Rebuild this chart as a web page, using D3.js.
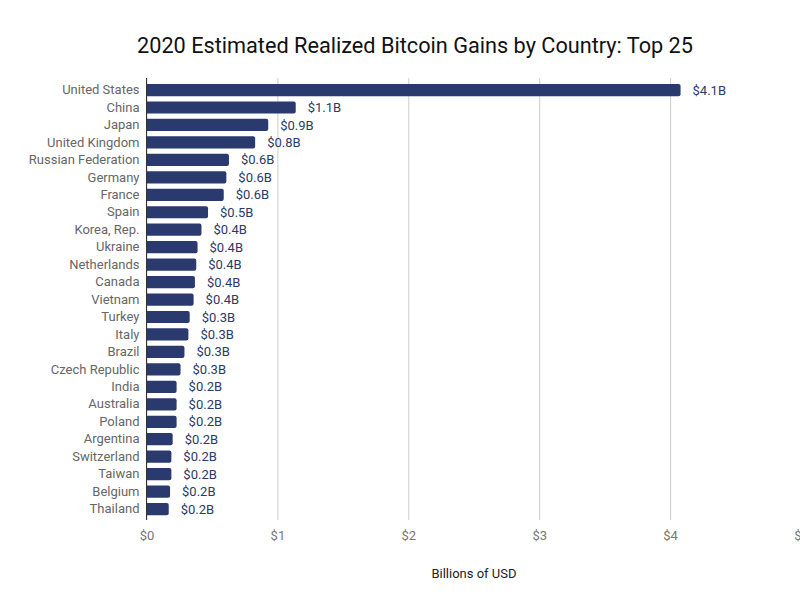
<!DOCTYPE html>
<html>
<head>
<meta charset="utf-8">
<script src="https://cdn.jsdelivr.net/npm/d3@7"></script>
<style>
  body { margin: 0; background: #fff; }
  text { font-family: Roboto, "Open Sans", sans-serif; }
</style>
</head>
<body>
<div id="chart"></div>
<script>
// data (billions of USD)
var countries = ["United States", "China", "Japan", "United Kingdom", "Russian Federation",
  "Germany", "France", "Spain", "Korea, Rep.", "Ukraine", "Netherlands", "Canada",
  "Vietnam", "Turkey", "Italy", "Brazil", "Czech Republic", "India", "Australia",
  "Poland", "Argentina", "Switzerland", "Taiwan", "Belgium", "Thailand"]
var gains = [4.08, 1.14, 0.93, 0.83, 0.63, 0.61, 0.59, 0.47, 0.42, 0.39, 0.38, 0.37,
  0.36, 0.33, 0.32, 0.29, 0.26, 0.23, 0.23, 0.23, 0.2, 0.19, 0.19, 0.18, 0.17]
var xTicks = [0, 1, 2, 3, 4, 5]

var data = countries.map(function(c, i) { return {name: c, value: gains[i]} })

// set the dimensions and margins of the graph
var margin = {top: 78, right: 0, bottom: 80, left: 146.5},
    width = 800 - margin.left - margin.right,
    height = 600 - margin.top - margin.bottom;

var svg = d3.select("#chart")
  .append("svg")
    .attr("width", 800)
    .attr("height", 600)

var g = svg.append("g")
    .attr("transform", "translate(" + margin.left + "," + margin.top + ")");

// title
svg.append("text")
    .attr("x", 415)
    .attr("y", 53)
    .attr("text-anchor", "middle")
    .style("font-size", "21.7px")
    .style("fill", "#111")
    .text("2020 Estimated Realized Bitcoin Gains by Country: Top 25")

var x = d3.scaleLinear()
    .domain([0, 5])
    .range([0, 654.5]);

var y = d3.scaleBand()
    .domain(countries)
    .range([3.3, 439.8])
    .paddingInner(0.3)
    .paddingOuter(0.15);

// gridlines + tick labels
g.append("g")
  .attr("class", "x-grid")
  .attr("transform", "translate(0,442)")
  .call(d3.axisBottom(x).tickValues(xTicks).tickSize(-442).tickFormat(function(d) { return "$" + d }))
  .call(function(a) {
    a.select(".domain").remove()
    a.selectAll(".tick line").attr("stroke", "#cccccc")
    a.selectAll(".tick text")
      .attr("dy", 0).attr("y", 20)
      .style("font-size", "13px").style("fill", "#777")
      .style("font-family", "Roboto, sans-serif")
  })

// bars
g.selectAll("path.bar")
  .data(data)
  .enter()
  .append("path")
    .attr("class", "bar")
    .attr("fill", "#2b3a6e")
    .attr("d", function(d) {
      var w = x(d.value), t = y(d.name), h = y.bandwidth(), r = 2
      return "M0," + t + "H" + (w - r) + "Q" + w + "," + t + " " + w + "," + (t + r) +
        "V" + (t + h - r) + "Q" + w + "," + (t + h) + " " + (w - r) + "," + (t + h) + "H0Z"
    })

// baseline
g.append("line")
  .attr("x1", 0).attr("x2", 0)
  .attr("y1", 0).attr("y2", 442)
  .attr("stroke", "#333").attr("stroke-width", 1)

// category labels
g.append("g")
  .call(d3.axisLeft(y).tickSize(0).tickPadding(7))
  .call(function(a) {
    a.select(".domain").remove()
    a.selectAll(".tick text")
      .style("font-size", "13px").style("fill", "#666")
      .style("font-family", "Roboto, sans-serif")
  })

// value labels
g.selectAll("text.val")
  .data(data)
  .enter()
  .append("text")
    .attr("class", "val")
    .attr("x", function(d) { return x(d.value) + 12 })
    .attr("y", function(d) { return y(d.name) + y.bandwidth() / 2 })
    .attr("dy", "0.35em")
    .style("font-size", "13px")
    .style("fill", "#2b3a67")
    .text(function(d) { return "$" + d.value.toFixed(1) + "B" })

// x axis title
svg.append("text")
    .attr("x", 474)
    .attr("y", 578)
    .attr("text-anchor", "middle")
    .style("font-size", "13px")
    .style("fill", "#222")
    .text("Billions of USD")
</script>
</body>
</html>
